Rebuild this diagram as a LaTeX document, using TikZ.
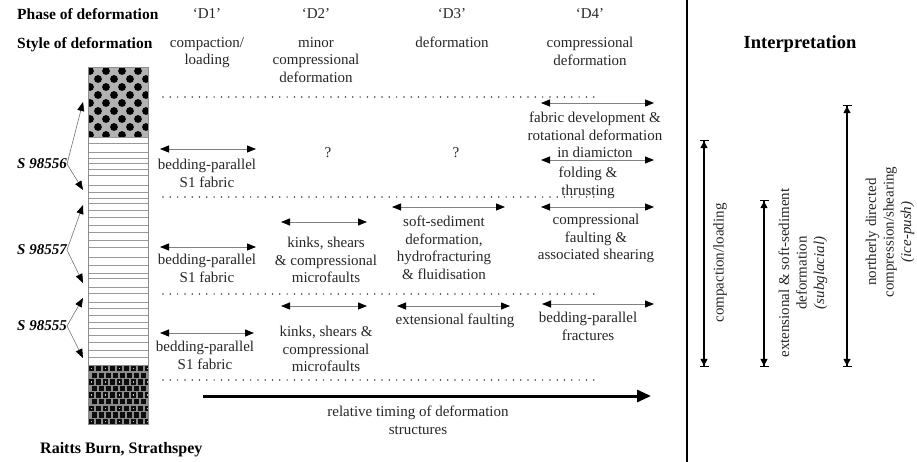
\documentclass[tikz,border=0pt]{standalone}
\usepackage{fontspec}
\setmainfont{Liberation Serif}
\usetikzlibrary{arrows.meta}

\begin{document}
\begin{tikzpicture}[x=1pt,y=-1pt,
    txt/.style ={font=\fontsize{15}{17.5}\selectfont, text=black!85, align=center, inner sep=0pt},
    head/.style ={font=\fontsize{15.5}{18}\selectfont\bfseries, inner sep=0pt},
    sample/.style ={font=\fontsize{15}{17}\selectfont\bfseries\itshape, inner sep=0pt},
    span/.style ={draw=black!50, line width=0.8pt,
      {Triangle[length=9pt,width=7pt,color=black]}-{Triangle[length=9pt,width=7pt,color=black]}},
    pointer/.style ={draw=black!55, line width=0.6pt, -{Triangle[length=9pt,width=7pt,color=black]}},
    barspan/.style ={draw=black, line width=1.5pt,
      {Bar[width=9pt,line width=1.2pt]Triangle[length=7pt,width=7pt]}-{Triangle[length=7pt,width=7pt]Bar[width=9pt,line width=1.2pt]}},
    dotline/.style ={draw=black!75, line width=1.7pt, line cap=round, dash pattern=on 0pt off 7.3pt}]
   \useasboundingbox (0,0) rectangle (917,462);

   % headers
   \node[head, anchor=west] (phase) at (17,14) {Phase of deformation};
   \node[head, anchor=west] (style) at (17,45) {Style of deformation};
   \node[txt] (d1) at (207,14) {‘D1’};
   \node[txt] (d2) at (316,14) {‘D2’};
   \node[txt] (d3) at (452,14) {‘D3’};
   \node[txt] (d4) at (590,14) {‘D4’};
   \node[txt, anchor=north] (s1) at (207,37) {compaction/\\loading};
   \node[txt, anchor=north] (s2) at (316,37) {minor\\compressional\\deformation};
   \node[txt, anchor=north] (s3) at (452,37) {deformation};
   \node[txt, anchor=north] (s4) at (590,37) {compressional\\deformation};

   % log column
   \begin{scope}
     \clip (88,67) rectangle (148,137);
     \fill[black!30] (88,67) rectangle (148,137);
     \foreach \r in {0,...,8}
       \foreach \c in {0,...,4}
         \fill ({90+\c*16+mod(\r,2)*8},{71+\r*8}) circle[radius=3.9pt];
   \end{scope}
   \begin{scope}
     \clip (88,365) rectangle (148,424);
     \fill[black!45] (88,365) rectangle (148,424);
     \foreach \r in {0,...,8}
       \foreach \c in {0,...,8}
         \fill[black!95] ({88.5+\c*7+mod(\r,2)*3},{366+\r*6.6}) rectangle ++(5.8,5.4);
     \foreach \r in {0,2,...,8}
       \foreach \c in {0,2,...,8}
         \fill[white!75!black] ({91+\c*7+mod(\r,2)*3},{368+\r*6.6}) rectangle ++(1.4,1.4);
   \end{scope}
   \foreach \h in {137,143,152,158,163,169,175,185,192,198,203,210,217,225,232,240,247,257,265,273,278,287,293,302,308,315,322,328,335,342,350,357}
     \draw[black!40, line width=0.7pt] (88,\h) -- (148,\h);
   \draw[black!45, line width=0.8pt] (88,67) rectangle (148,424);

   % samples
   \node[sample] (sa) at (42,164) {S 98556};
   \node[sample] (sb) at (42,250) {S 98557};
   \node[sample] (sc) at (42,326) {S 98555};
   \foreach \n/\y/\ya/\yb in {sa/164/102/190, sb/250/205/283, sc/326/298/358} {
     \coordinate (\n k) at (67,\y);
     \coordinate (\n u) at (83,\ya);
     \coordinate (\n d) at (83,\yb);
     \draw[pointer] (\n k) -- (\n u);
     \draw[pointer] (\n k) -- (\n d);
   }

   % dotted dividers
   \foreach \n/\y in {da/97, db/197, dc/294, dd/380} {
     \coordinate (\n l) at (163,\y);
     \coordinate (\n r) at (597,\y);
     \draw[dotline] (\n l) -- (\n r);
   }

   % ranges of structures
   \foreach \n/\xa/\xb/\y in {fa/541/654/103, fb/541/654/160, ba/160/256/149,
       ca/541/654/207, sd/392/505/207, ka/281/367/222, bb/160/256/247,
       kb/281/367/306, ex/397/510/306, fr/542/654/304, bc/160/254/333} {
     \coordinate (\n l) at (\xa,\y);
     \coordinate (\n r) at (\xb,\y);
     \draw[span] (\n l) -- (\n r);
   }

   \node[txt, anchor=north] (fab) at (595,112) {fabric development \&\\rotational deformation\\in diamicton};
   \node[txt, anchor=north] (fold) at (588,167) {folding \&\\thrusting};
   \node[txt, anchor=north] (bp1) at (207,159) {bedding-parallel\\S1 fabric};
   \node[txt] (q2) at (328,153) {?};
   \node[txt] (q3) at (456,153) {?};
   \node[txt, anchor=north] (cf) at (596,214) {compressional\\faulting \&\\associated shearing};
   \node[txt, anchor=north] (ss) at (444,216) {soft-sediment\\deformation,\\hydrofracturing\\\& fluidisation};
   \node[txt, anchor=north] (ks1) at (326,237) {kinks, shears\\\& compressional\\microfaults};
   \node[txt, anchor=north] (bp2) at (207,254) {bedding-parallel\\S1 fabric};
   \node[txt, anchor=north] (ks2) at (326,326) {kinks, shears \&\\compressional\\microfaults};
   \node[txt, anchor=north] (ef) at (455,314) {extensional faulting};
   \node[txt, anchor=north] (bpf) at (588,312) {bedding-parallel\\fractures};
   \node[txt, anchor=north] (bp3) at (205,341) {bedding-parallel\\S1 fabric};

   % timing
   \coordinate (tl) at (203,396);
   \coordinate (tr) at (651,396);
   \draw[line width=3pt, -{Triangle[length=14pt,width=12pt]}] (tl) -- (tr);
   \node[txt, anchor=north] (timing) at (418,406) {relative timing of deformation\\structures};
   \node[head, anchor=west, font=\fontsize{16}{18}\selectfont\bfseries] (site) at (40,450) {Raitts Burn, Strathspey};

   % interpretation
   \coordinate (vt) at (687,0);
   \coordinate (vb) at (687,462);
   \draw[line width=1.8pt] (vt) -- (vb);
   \node[head, font=\fontsize{18.5}{20}\selectfont\bfseries] (interp) at (800,44) {Interpretation};
   \foreach \n/\x/\y in {ic/704/140, ie/764/200, in/847/105} {
     \coordinate (\n t) at (\x,\y);
     \coordinate (\n b) at (\x,367);
     \draw[barspan] (\n b) -- (\n t);
   }
   \node[txt, rotate=90] (tc) at (720,263) {compaction/loading};
   \node[txt, rotate=90] (te) at (803,273) {extensional \& soft-sediment\\deformation\\\textit{(subglacial)}};
   \node[txt, rotate=90] (tn) at (890,232) {northerly directed\\compression/shearing\\\textit{(ice-push)}};
 \end{tikzpicture}
\end{document}
